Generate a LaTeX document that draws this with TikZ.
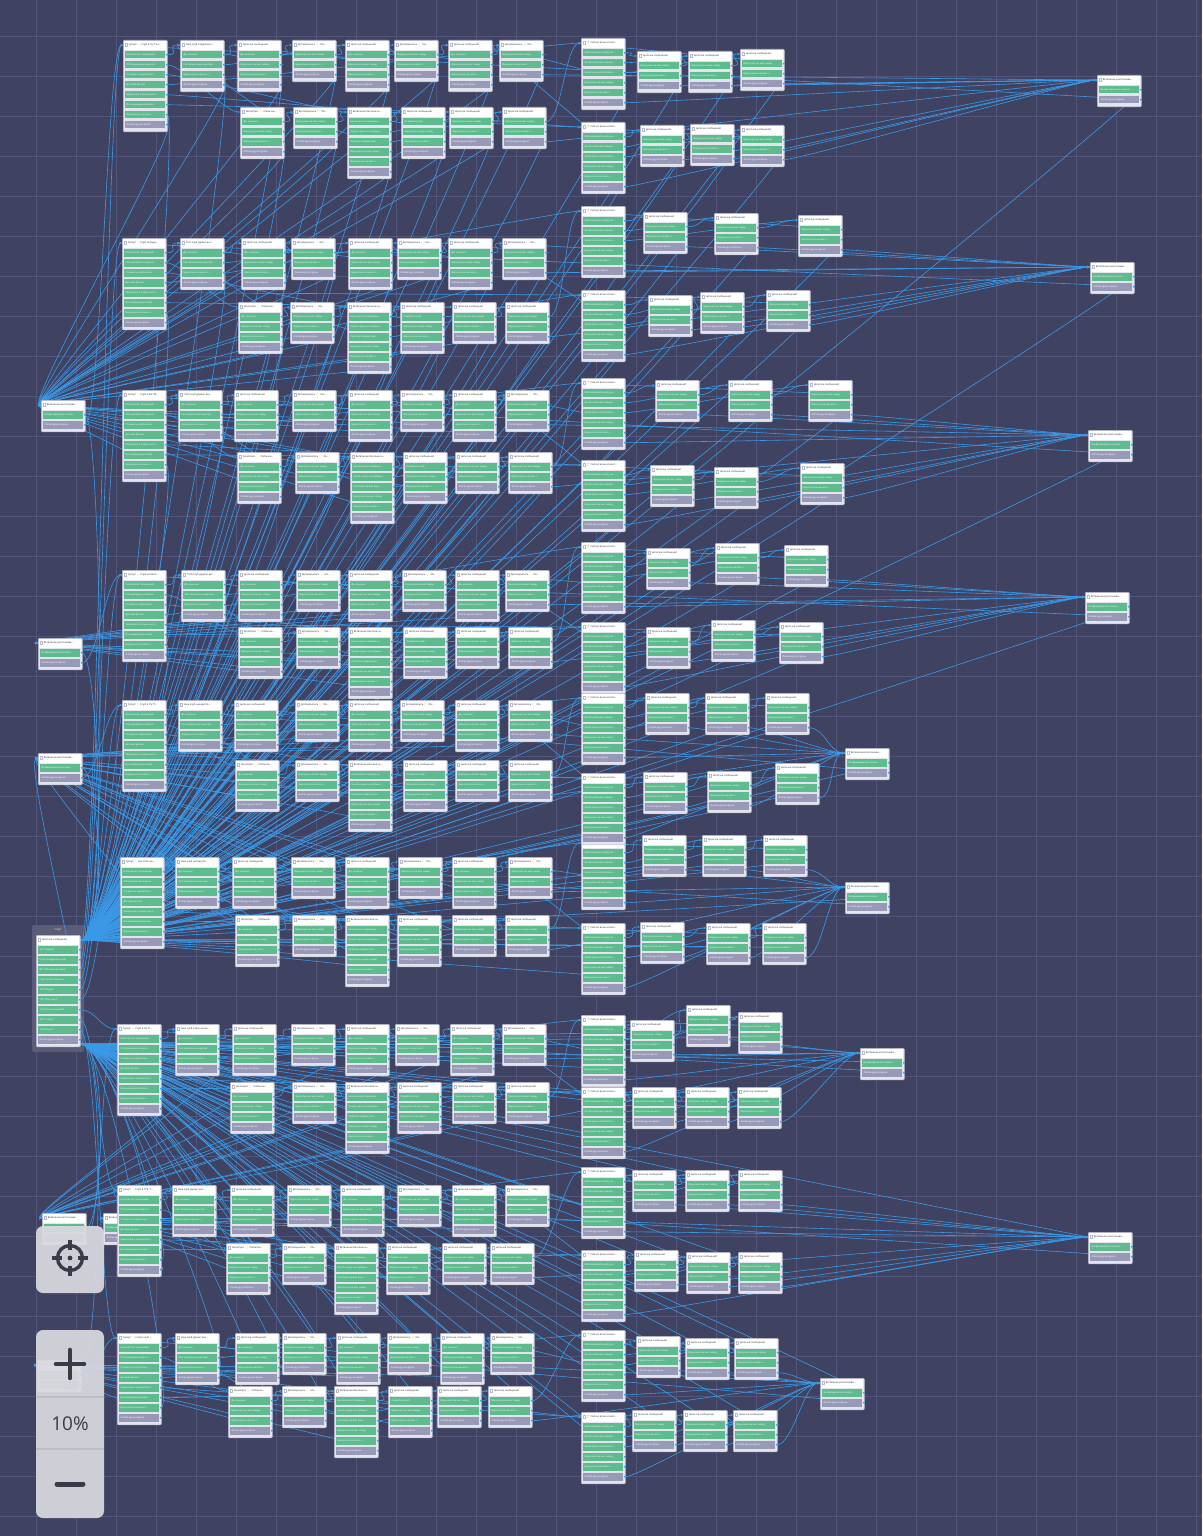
\documentclass[tikz,border=0pt]{standalone}
\usepackage{fontspec}
\setmainfont{Open Sans}
\newfontfamily\emo{Noto Emoji}
\usetikzlibrary{arrows.meta}
\definecolor{bgc}{HTML}{3F4261}
\definecolor{gridc}{HTML}{525479}
\definecolor{framec}{HTML}{5A5C78}
\definecolor{cardc}{HTML}{E3E4EE}
\definecolor{edgec}{HTML}{B8BACB}
\definecolor{greenc}{HTML}{5DBB8E}
\definecolor{greyc}{HTML}{9899B6}
\definecolor{wirec}{HTML}{3A9AE8}
\definecolor{hdrc}{HTML}{2E2F3A}
\definecolor{smc}{HTML}{F2C12E}
\definecolor{phc}{HTML}{B8862E}
\definecolor{panelc}{HTML}{D9D9DF}
\definecolor{iconc}{HTML}{3A3B48}
\definecolor{divc}{HTML}{B9C1BE}
\pgfdeclarelayer{bgz}
\pgfdeclarelayer{wires}
\pgfsetlayers{bgz,wires,main}
\newcommand{\sm}{{\emo\color{smc}😊}}
\newcommand{\ph}{{\emo\color{phc}📱}}
\newcommand{\tf}{\fontsize{2.4}{2.8}\selectfont}
\newcommand{\hf}{\fontsize{2.5}{2.9}\selectfont}
\tikzset{
 cardbox/.style={draw=edgec, fill=cardc, line width=0.6pt, rounded corners=1pt, inner sep=0pt, minimum width=44pt, anchor=north west},
 rowtxt/.style={text=white, font=\tf, inner sep=0pt, anchor=west},
 hdrtxt/.style={text=hdrc, font=\hf, inner sep=0pt, anchor=west},
 wire/.style={draw=wirec, line width=0.6pt, -{Stealth[length=2.5pt,width=2.2pt]}},
 gridl/.style={draw=gridc, line width=0.6pt},
 panel/.style={fill=panelc, fill opacity=0.93, rounded corners=7pt},
 iconline/.style={draw=iconc, line width=3.4pt},
}
% card: name, x, y, number of rows, title, rows (last one grey)
\newcommand{\card}[6]{%
 \node[cardbox, minimum height=11.5+10*#4] (#1) at (#2,#3) {};
 \fill[white] (#2+0.6,#3+0.6) rectangle (#2+43.4,#3+9.6);
 \draw[edgec, line width=0.4pt] (#2+2,#3+3.6) rectangle (#2+4.4,#3+6);
 \node[hdrtxt] at (#2+5.6,#3+5) {#5};
 \coordinate (#1-in) at (#2,#3+5);
 \foreach[count=\k] \rl in {#6}{%
   \ifnum\k=#4\relax
     \fill[greyc] (#2+2,#3+10*\k+1) rectangle (#2+42,#3+10*\k+8.5);
   \else
     \fill[greenc] (#2+2,#3+10*\k+1) rectangle (#2+42,#3+10*\k+8.5);
   \fi
   \node[rowtxt] at (#2+3.5,#3+10*\k+4.75) {\rl};
   \coordinate (#1-r\k) at (#2+44,#3+10*\k+4.75);
   \fill[wirec] (#1-r\k) circle (1.1);
 }%
}
\newcommand{\cF}[4]{\card{#1}{#2}{#3}{8}{#4}{Количество посещений…, Обслуживание клиенто…, Стоимость клубной ка…, Детский фитнес, Заморозка и отмена на 3…, Все имеющиеся возмо…, Вернуться в начало с…, Любая другая фраза}}
\newcommand{\cT}[4]{\card{#1}{#2}{#3}{4}{#4}{{Да, конечно}, Расскажите мне еще про…, Вернуться в начало с…, Любая другая фраза}}
\newcommand{\cC}[3]{\card{#1}{#2}{#3}{4}{Цепочка сообщений}{{Да, конечно}, Вернуться на шаг назад, Вернуться в начало с…, Любая другая фраза}}
\newcommand{\cD}[3]{\card{#1}{#2}{#3}{3}{Договорились \sm{} Что…}{Вернуться на шаг назад, Вернуться в начало с…, Любая другая фраза}}
\newcommand{\cN}[3]{\card{#1}{#2}{#3}{4}{Не вопрос \sm{} Чтобы ви…}{{Да, конечно}, Вернуться на шаг назад, Вернуться в начало с…, Любая другая фраза}}
\newcommand{\cV}[3]{\card{#1}{#2}{#3}{6}{Ветвление бесконечн…}{Бесконечное перемещ…, Узнать цены на клубные…, Пробная первая трен…, Вернуться на шаг назад, Вернуться в начало с…, Любая другая фраза}}
\newcommand{\cP}[3]{\card{#1}{#2}{#3}{4}{Цепочка сообщений}{Перейти в клуб, Вернуться на шаг назад, Вернуться в начало с…, Любая другая фраза}}
\newcommand{\cM}[3]{\card{#1}{#2}{#3}{3}{Цепочка сообщений}{Вернуться на шаг назад, Вернуться в начало с…, Любая другая фраза}}
\newcommand{\cS}[3]{\card{#1}{#2}{#3}{6}{\ph{} Сейчас всем клиент…}{Заблокировать карту на…, Узнать больше о заказе, Записаться на бесплатн…, Вернуться на шаг назад, Вернуться в начало с…, Любая другая фраза}}
\newcommand{\cR}[3]{\card{#1}{#2}{#3}{2}{Ветвление распознава…}{Возвращаемся в начало…, Любая другая фраза}}
% section rows
\newcommand{\secA}[5]{%
 \foreach[count=\ci] \xv in {#3}{%
  \ifcase\ci\or
   \cF{s#1-a1}{\xv}{#2}{#4}\or
   \cT{s#1-a2}{\xv}{#2}{#5}\or
   \cC{s#1-a3}{\xv}{#2}\or
   \cD{s#1-a4}{\xv}{#2}\or
   \cC{s#1-a5}{\xv}{#2}\or
   \cD{s#1-a6}{\xv}{#2}\or
   \cC{s#1-a7}{\xv}{#2}\or
   \cD{s#1-a8}{\xv}{#2}\fi}}
\newcommand{\secB}[3]{%
 \foreach[count=\ci] \xv in {#3}{%
  \ifcase\ci\or
   \cN{s#1-b1}{\xv}{#2}\or
   \cD{s#1-b2}{\xv}{#2}\or
   \cV{s#1-b3}{\xv}{#2}\or
   \cP{s#1-b4}{\xv}{#2}\or
   \cM{s#1-b5}{\xv}{#2}\or
   \cM{s#1-b6}{\xv}{#2}\fi}}
\newcommand{\secT}[9]{%
 \cS{s#1-#2}{581}{#3}%
 \cM{s#1-#2a}{#4}{#5}%
 \cM{s#1-#2b}{#6}{#7}%
 \cM{s#1-#2c}{#8}{#9}}
% wires
\newcommand{\fw}[2]{\draw[wire] (#1) .. controls +(16,0) and +(-16,0) .. (#2);}
\newcommand{\tsw}[2]{\draw[wire] (#1) .. controls +(16,0) and +(30,0) .. (#2);}
\newcommand{\tallW}[3]{%
 \fw{s#1-#2-r1}{s#1-#2a-in}\fw{s#1-#2-r2}{s#1-#2b-in}\fw{s#1-#2-r3}{s#1-#2c-in}%
 \fw{s#1-#2-r4}{s#1-a8-in}\tsw{s#1-#2-r5}{#3}\fw{s#1-#2-r6}{s#1-R-in}%
 \fw{s#1-#2a-r1}{s#1-#2b-in}\tsw{s#1-#2a-r2}{#3}\fw{s#1-#2a-r3}{s#1-R-in}%
 \fw{s#1-#2b-r1}{s#1-#2c-in}\tsw{s#1-#2b-r2}{#3}\fw{s#1-#2b-r3}{s#1-R-in}%
 \fw{s#1-#2c-r1}{s#1-#2-in}\tsw{s#1-#2c-r2}{#3}\fw{s#1-#2c-r3}{s#1-R-in}%
}
\newcommand{\secW}[3]{%
 \fw{s#1-a1-r1}{s#1-a2-in}\fw{s#1-a1-r2}{s#1-b1-in}\fw{s#1-a1-r3}{s#1-b3-in}%
 \fw{s#1-a1-r4}{s#1-t1-in}\fw{s#1-a1-r5}{s#1-t2-in}\fw{s#1-a1-r6}{s#1-b5-in}%
 \tsw{s#1-a1-r7}{#3}\fw{s#1-a1-r8}{#2-in}%
 \fw{s#1-a2-r1}{s#1-a3-in}\fw{s#1-a2-r2}{s#1-a5-in}\tsw{s#1-a2-r3}{#3}\fw{s#1-a2-r4}{#2-in}%
 \fw{s#1-a3-r1}{s#1-a4-in}\fw{s#1-a3-r2}{s#1-a2-in}\tsw{s#1-a3-r3}{#3}\fw{s#1-a3-r4}{#2-in}%
 \fw{s#1-a4-r1}{s#1-a5-in}\tsw{s#1-a4-r2}{#3}\fw{s#1-a4-r3}{#2-in}%
 \fw{s#1-a5-r1}{s#1-a6-in}\fw{s#1-a5-r2}{s#1-a3-in}\tsw{s#1-a5-r3}{#3}\fw{s#1-a5-r4}{#2-in}%
 \fw{s#1-a6-r1}{s#1-a7-in}\tsw{s#1-a6-r2}{#3}\fw{s#1-a6-r3}{#2-in}%
 \fw{s#1-a7-r1}{s#1-a8-in}\fw{s#1-a7-r2}{s#1-a5-in}\tsw{s#1-a7-r3}{#3}\fw{s#1-a7-r4}{#2-in}%
 \fw{s#1-a8-r1}{s#1-a7-in}\tsw{s#1-a8-r2}{#3}\fw{s#1-a8-r3}{s#1-R-in}%
 \fw{s#1-b1-r1}{s#1-b2-in}\fw{s#1-b1-r2}{s#1-a2-in}\tsw{s#1-b1-r3}{#3}\fw{s#1-b1-r4}{#2-in}%
 \fw{s#1-b2-r1}{s#1-b3-in}\tsw{s#1-b2-r2}{#3}\fw{s#1-b2-r3}{#2-in}%
 \fw{s#1-b3-r1}{s#1-b4-in}\fw{s#1-b3-r2}{s#1-b5-in}\fw{s#1-b3-r3}{s#1-b6-in}%
 \fw{s#1-b3-r4}{s#1-b2-in}\tsw{s#1-b3-r5}{#3}\fw{s#1-b3-r6}{#2-in}%
 \fw{s#1-b4-r1}{s#1-t2-in}\fw{s#1-b4-r2}{s#1-b3-in}\tsw{s#1-b4-r3}{#3}\fw{s#1-b4-r4}{#2-in}%
 \fw{s#1-b5-r1}{s#1-b6-in}\tsw{s#1-b5-r2}{#3}\fw{s#1-b5-r3}{#2-in}%
 \fw{s#1-b6-r1}{s#1-t1-in}\tsw{s#1-b6-r2}{#3}\fw{s#1-b6-r3}{s#1-R-in}%
 \tallW{#1}{t1}{#3}\tallW{#1}{t2}{#3}%
 \tsw{s#1-R-r1}{#3}\fw{s#1-R-r2}{s#1-a1-in}%
}
\begin{document}
\begin{tikzpicture}[x=1pt,y=-1pt]
\useasboundingbox (0,0) rectangle (1202,1536);
\begin{pgfonlayer}{bgz}
\fill[bgc] (0,0) rectangle (1202,1536);
\foreach \g in {36,76,...,1196} \draw[gridl] (\g,0) -- (\g,1536);
\foreach \g in {36,76,...,1516} \draw[gridl] (0,\g) -- (1202,\g);
\fill[framec, rounded corners=2pt] (32,925) rectangle (84,1052);
\end{pgfonlayer}
\node[hdrtxt, text=white, anchor=center] (startlbl) at (58,929.8) {Старт};
% start card
\card{st}{36}{935}{10}{Цепочка сообщений}{ТЦ "Галерея", Клуб на Будапештской, ЖК "Московский парк", Клуб на Московском, ТЦ "Победа", ТРК "Парк Хаус", ТЦ "Красносельский", ТРК "Глобус", ТЦ "Космос", Любая другая фраза}
\coordinate (st-a) at (80,940);
\coordinate (st-b) at (80,1044);
% left branch cards
\cR{L1}{41}{400}
\cR{L2}{38}{638}
\cR{L3}{38}{753}
\cR{L4}{42}{1213}
\cR{L5}{103}{1213}
\cR{L6}{37}{1360}
% sections, left part
\secA{1}{40}{123,180,237,292,345,394,448,499}{Супер! \sm{} Клуб в ТЦ "Гал…}{Наш клуб в Будапешт…}
\secB{1}{107}{240,293,347,401,449,502}
\secA{2}{238}{122,180,241,291,348,397,448,502}{Супер! \sm{} Клуб на Буда…}{Этот клуб удивит вас…}
\secB{2}{302}{238,290,347,400,452,505}
\secA{3}{390}{122,178,234,292,348,400,452,505}{Супер! \sm{} Клуб в ЖК "М…}{Чтоб клуб удивил вас…}
\secB{3}{452}{237,295,350,403,455,508}
\secA{4}{570}{122,181,238,296,348,402,455,505}{Супер! \sm{} Клуб на Моск…}{Чтоб клуб удивил вас…}
\secB{4}{627}{238,296,348,403,455,508}
\secA{5}{700}{122,178,234,295,348,400,455,508}{Супер! \sm{} Клуб в ТЦ "П…}{Наш клуб находится…}
\secB{5}{760}{235,295,348,403,455,508}
\secA{6}{857}{120,175,232,291,345,398,452,508}{Супер! \sm{} Вы отлично…}{Наш клуб находится…}
\secB{6}{915}{235,292,345,397,452,505}
\secA{7}{1024}{117,175,232,291,345,395,450,502}{Супер! \sm{} Клуб в ТЦ "К…}{Наш клуб в Красносел…}
\secB{7}{1082}{230,292,345,397,452,505}
\secA{8}{1185}{117,172,230,287,340,397,452,505}{Супер! \sm{} Клуб в ТРК "Г…}{Наш клуб удивит вас…}
\secB{8}{1243}{226,282,334,386,442,490}
\secA{9}{1333}{117,175,235,282,336,387,440,490}{Супер! \sm{} Спорт-клуб…}{Наш клуб удивит вас…}
\secB{9}{1386}{228,282,334,388,437,488}
% sections, right part
\secT{1}{t1}{38}{637}{51}{688}{51}{740}{49}
\secT{1}{t2}{122}{640}{125}{690}{124}{740}{125}
\cR{s1-R}{1097}{75}
\secT{2}{t1}{206}{643}{212}{714}{213}{798}{215}
\secT{2}{t2}{290}{648}{295}{700}{292}{766}{290}
\cR{s2-R}{1090}{262}
\secT{3}{t1}{378}{655}{380}{728}{380}{808}{380}
\secT{3}{t2}{460}{650}{465}{714}{467}{800}{463}
\cR{s3-R}{1088}{430}
\secT{4}{t1}{542}{646}{548}{715}{543}{784}{545}
\secT{4}{t2}{622}{646}{627}{711}{620}{779}{622}
\cR{s4-R}{1085}{592}
\secT{5}{t1}{693}{645}{693}{705}{693}{765}{693}
\secT{6}{t1}{838}{642}{835}{702}{835}{763}{835}
\secT{5}{t2}{773}{643}{772}{707}{771}{775}{763}
\cR{s5-R}{845}{748}
\secT{6}{t2}{923}{640}{922}{706}{923}{762}{923}
\cR{s6-R}{845}{882}
\secT{7}{t1}{1015}{630}{1020}{686}{1005}{738}{1012}
\secT{7}{t2}{1087}{632}{1087}{685}{1087}{737}{1087}
\cR{s7-R}{860}{1048}
\secT{8}{t1}{1167}{632}{1170}{685}{1170}{738}{1170}
\secT{8}{t2}{1250}{634}{1250}{686}{1252}{738}{1252}
\cR{s8-R}{1088}{1232}
\secT{9}{t1}{1330}{636}{1336}{685}{1338}{734}{1338}
\secT{9}{t2}{1412}{632}{1410}{683}{1410}{733}{1410}
\cR{s9-R}{820}{1378}
% connectors
\begin{pgfonlayer}{wires}
\foreach \i in {1,...,9} {\fw{st-r\i}{s\i-a1-in}}
\secW{1}{L1}{st-a}
\secW{2}{L1}{st-a}
\secW{3}{L1}{st-a}
\secW{4}{L2}{st-a}
\secW{5}{L3}{st-a}
\secW{6}{L3}{st-a}
\secW{7}{L4}{st-b}
\secW{8}{L5}{st-b}
\secW{9}{L6}{st-b}
\tsw{L1-r1}{st-a}\fw{L1-r2}{s1-a1-in}
\tsw{L2-r1}{st-a}\fw{L2-r2}{s4-a1-in}
\tsw{L3-r1}{st-a}\fw{L3-r2}{s5-a1-in}
\tsw{L4-r1}{st-b}\fw{L4-r2}{s7-a1-in}
\tsw{L5-r1}{st-b}\fw{L5-r2}{s8-a1-in}
\tsw{L6-r1}{st-b}\fw{L6-r2}{s9-a1-in}
\fw{st-r10}{L3-in}
\end{pgfonlayer}
% zoom controls
\path[panel] (36,1226) rectangle (104,1293);
\draw[iconline] (70,1258) circle (12.5);
\draw[iconline] (52,1258) -- (62,1258) (78,1258) -- (88,1258) (70,1240) -- (70,1250) (70,1266) -- (70,1276);
\fill[iconc] (70,1258) circle (2.4);
\path[panel] (36,1330) rectangle (104,1518);
\draw[iconline, line width=4.6pt, line cap=round] (56,1364) -- (84,1364) (70,1350) -- (70,1378);
\draw[divc, line width=1.3pt] (36,1397) -- (104,1397) (36,1449) -- (104,1449);
\node[text=iconc, font=\fontsize{19}{21}\selectfont, inner sep=0pt] (zoomlbl) at (70,1424) {10\%};
\draw[iconline, line width=5pt, line cap=round] (57,1484) -- (83,1484);
\end{tikzpicture}
\end{document}
